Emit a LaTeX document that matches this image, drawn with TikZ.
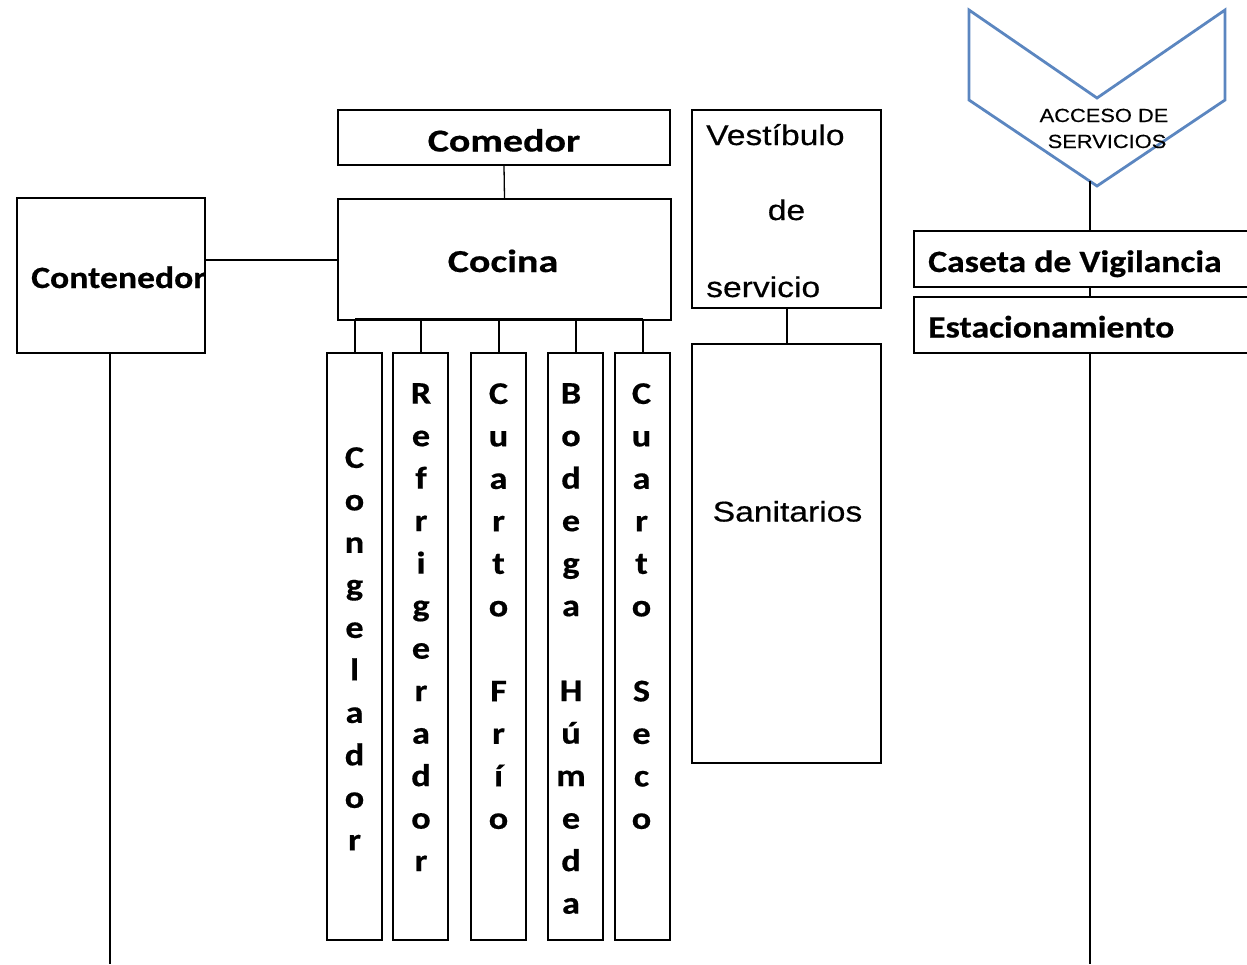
\documentclass[tikz,border=0pt]{standalone}
\usepackage{fontspec}
\newfontfamily\calb[FakeStretch=1.15,FakeBold=0.5]{Carlito}
\newfontfamily\calw[FakeStretch=1.25,FakeBold=0.5]{Carlito}
\newfontfamily\ari[FakeStretch=1.18,FakeBold=0.5]{Liberation Sans}
\newfontfamily\aris[FakeStretch=1.15,FakeBold=0.4]{Liberation Sans}
\definecolor{chevblue}{HTML}{5B86C0}
\begin{document}
\begin{tikzpicture}[x=1pt,y=-1pt,
  box/.style={draw=black,line width=1.9pt,inner sep=0pt,fill=white},
  conn/.style={draw=black,line width=1.7pt},
  bigt/.style={inner sep=0pt,font=\calb\bfseries\fontsize{31}{42.5}\selectfont},
  widet/.style={inner sep=0pt,font=\calw\bfseries\fontsize{32}{42.5}\selectfont},
  vert/.style={inner sep=0pt,align=center,anchor=north,font=\calb\bfseries\fontsize{31.5}{42.5}\selectfont},
  art/.style={inner sep=0pt,font=\ari\fontsize{28.5}{30}\selectfont},
  smallt/.style={inner sep=0pt,align=center,font=\aris\fontsize{19}{22}\selectfont}]
\useasboundingbox (0,0) rectangle (1247,964);
% boxes
\node[box,minimum width=332pt,minimum height=55pt] (comedor) at (504,137.5) {};
\node[box,minimum width=333pt,minimum height=121pt] (cocina) at (504.5,259.5) {};
\node[box,minimum width=188pt,minimum height=155pt] (cont) at (111,275.5) {};
\node[box,minimum width=55pt,minimum height=587pt] (cong) at (354.5,646.5) {};
\node[box,minimum width=55pt,minimum height=587pt] (refr) at (420.5,646.5) {};
\node[box,minimum width=55pt,minimum height=587pt] (frio) at (498.5,646.5) {};
\node[box,minimum width=55pt,minimum height=587pt] (bode) at (575.5,646.5) {};
\node[box,minimum width=55pt,minimum height=587pt] (seco) at (642.5,646.5) {};
\node[box,minimum width=189pt,minimum height=198pt] (vest) at (786.5,209) {};
\node[box,minimum width=189pt,minimum height=419pt] (sani) at (786.5,553.5) {};
\node[box,minimum width=340pt,minimum height=56pt] (caseta) at (1084,259) {};
\node[box,minimum width=340pt,minimum height=56pt] (estac) at (1084,325) {};
% chevron
\draw[chevblue,line width=2.8pt,line join=miter] (969,10) -- (1097,98) -- (1225,10) -- (1225,100) -- (1097,186) -- (969,100) -- cycle;
\coordinate (chevbot) at (1090,181);
% connectors
\coordinate (bot1) at (110,964);
\coordinate (bot2) at (1090,964);
\draw[conn,line width=1.3pt] (comedor.south) -- (cocina.north);
\draw[conn] (cont.east |- 0,260) -- (cocina.west |- 0,260);
\draw[conn] (cont.south -| 110,0) -- (bot1);
\draw[conn] (355,319) -- (643,319);
\draw[conn] (cong.north -| 355,0) -- (355,319);
\draw[conn] (refr.north -| 421,0) -- (421,319);
\draw[conn] (frio.north -| 499,0) -- (499,319);
\draw[conn] (bode.north -| 576,0) -- (576,319);
\draw[conn] (seco.north -| 643,0) -- (643,319);
\draw[conn,line width=1.3pt] (vest.south -| 787,0) -- (sani.north -| 787,0);
\draw[conn,line width=1.3pt] (chevbot) -- (caseta.north -| 1090,0);
\draw[conn,line width=1.3pt] (caseta.south -| 1090,0) -- (estac.north -| 1090,0);
\draw[conn,line width=1.3pt] (estac.south -| 1090,0) -- (bot2);
% texts
\node[widet,anchor=base] (tcom) at (504,151.5) {Comedor};
\node[widet,anchor=base] (tcoc) at (503,272) {Cocina};
\node[bigt,anchor=base west] (tcont) at (31,288) {Contenedor};
\node[bigt,anchor=base west] (tcas) at (928,272) {Caseta de Vigilancia};
\node[bigt,anchor=base west] (test) at (928,337.5) {Estacionamiento};
\node[vert] (tcong) at (354.5,447) {C\\o\\n\\g\\e\\l\\a\\d\\o\\r};
\node[vert] (trefr) at (421,383) {R\\e\\f\\r\\i\\g\\e\\r\\a\\d\\o\\r};
\node[vert] (tfrio) at (498.5,383) {C\\u\\a\\r\\t\\o\\[42.5pt]F\\r\\í\\o};
\node[vert] (tbode) at (571,383) {B\\o\\d\\e\\g\\a\\[42.5pt]H\\ú\\m\\e\\d\\a};
\node[vert] (tseco) at (641.5,383) {C\\u\\a\\r\\t\\o\\[42.5pt]S\\e\\c\\o};
\node[art,anchor=base west] (tv1) at (706,145) {Vestíbulo};
\node[art,anchor=base] (tv2) at (786.5,220) {de};
\node[art,anchor=base west] (tv3) at (706,297) {servicio};
\node[art,anchor=base] (tsan) at (787.5,521.5) {Sanitarios};
\node[smallt,anchor=base] (tacc1) at (1104,122) {ACCESO DE};
\node[smallt,anchor=base] (tacc2) at (1107,148) {SERVICIOS};
\end{tikzpicture}
\end{document}
